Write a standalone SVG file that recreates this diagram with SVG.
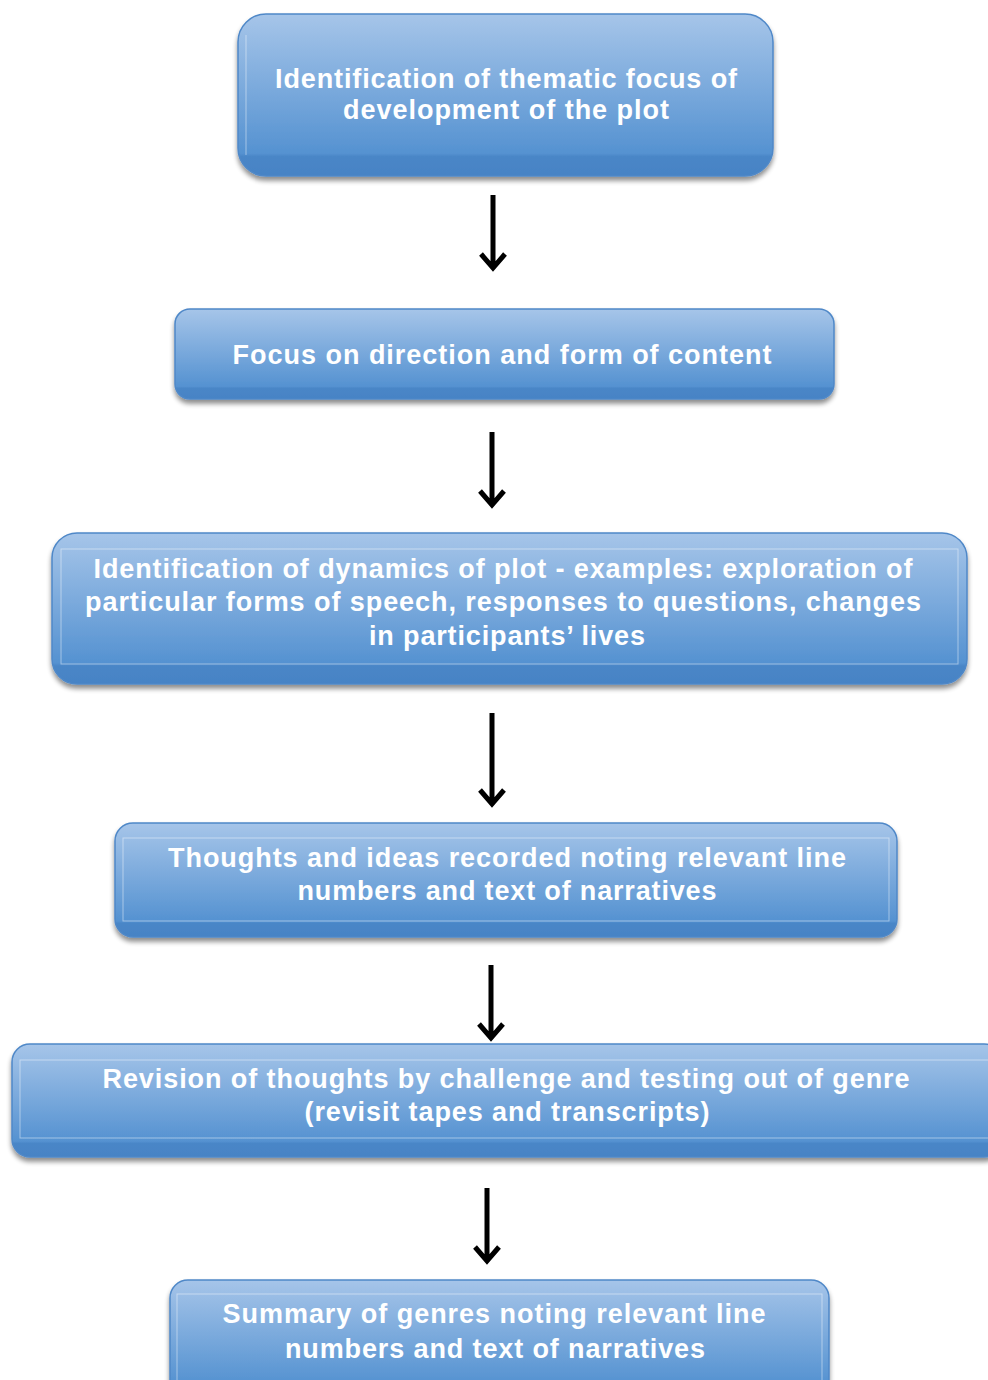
<svg xmlns="http://www.w3.org/2000/svg" width="988" height="1380" viewBox="0 0 988 1380">
<defs>
<linearGradient id="g" x1="0" y1="0" x2="0" y2="1">
<stop offset="0" stop-color="#a6c5e9"/>
<stop offset="0.86" stop-color="#5592d1"/>
<stop offset="0.88" stop-color="#4a86c7"/>
<stop offset="1" stop-color="#4683c5"/>
</linearGradient>
<filter id="sh" x="-5%" y="-10%" width="110%" height="130%">
<feGaussianBlur in="SourceAlpha" stdDeviation="2.5"/>
<feOffset dx="0" dy="4" result="b"/>
<feComponentTransfer><feFuncA type="linear" slope="0.45"/></feComponentTransfer>
<feMerge><feMergeNode/><feMergeNode in="SourceGraphic"/></feMerge>
</filter>
</defs>
<style>
.box{fill:url(#g);stroke:#4f88c8;stroke-width:1.5;filter:url(#sh)}
.inner{fill:none;stroke:#ffffff;stroke-opacity:0.45;stroke-width:1}
.t{font-family:"Liberation Sans",Arial,sans-serif;font-weight:bold;font-size:27px;fill:#ffffff;text-anchor:middle}
.arr{stroke:#000;stroke-width:5;fill:none;stroke-linecap:butt;stroke-linejoin:miter}
</style>
<g id="connectors">
<path class="arr" d="M493 195V267M481 254L493 268L505 254"/>
<path class="arr" d="M492 432V504M480 491L492 505L504 491"/>
<path class="arr" d="M492 713V803M480 790L492 804L504 790"/>
<path class="arr" d="M491 965V1037M479 1024L491 1038L503 1024"/>
<path class="arr" d="M487 1188V1260M475 1247L487 1261L499 1247"/>
</g>
<g id="n1">
<rect class="box" x="238" y="14" width="535" height="162" rx="28"/>
<line class="inner" x1="246" y1="35" x2="246" y2="155"/>
<text class="t" x="506" y="88" textLength="462" lengthAdjust="spacing">Identification of thematic focus of</text>
<text class="t" x="506" y="119" textLength="326" lengthAdjust="spacing">development of the plot</text>
</g>
<g id="n2">
<rect class="box" x="175" y="309" width="659" height="90" rx="15"/>
<text class="t" x="502" y="364" textLength="539" lengthAdjust="spacing">Focus on direction and form of content</text>
</g>
<g id="n3">
<rect class="box" x="52" y="533" width="915" height="151" rx="25"/>
<rect class="inner" x="61" y="549" width="897" height="115"/>
<text class="t" x="503" y="578" textLength="819" lengthAdjust="spacing">Identification of dynamics of plot - examples: exploration of</text>
<text class="t" x="503" y="611" textLength="836" lengthAdjust="spacing">particular forms of speech, responses to questions, changes</text>
<text class="t" x="507" y="645" textLength="276" lengthAdjust="spacing">in participants’ lives</text>
</g>
<g id="n4">
<rect class="box" x="115" y="823" width="782" height="114" rx="18"/>
<rect class="inner" x="123" y="838" width="766" height="83"/>
<text class="t" x="507" y="867" textLength="678" lengthAdjust="spacing">Thoughts and ideas recorded noting relevant line</text>
<text class="t" x="507" y="900" textLength="419" lengthAdjust="spacing">numbers and text of narratives</text>
</g>
<g id="n5">
<rect class="box" x="12" y="1044" width="990" height="113" rx="18"/>
<rect class="inner" x="20" y="1060" width="980" height="78"/>
<text class="t" x="506" y="1088" textLength="807" lengthAdjust="spacing">Revision of thoughts by challenge and testing out of genre</text>
<text class="t" x="507" y="1121" textLength="405" lengthAdjust="spacing">(revisit tapes and transcripts)</text>
</g>
<g id="n6">
<rect class="box" x="170" y="1280" width="659" height="120" rx="18"/>
<rect class="inner" x="177" y="1294" width="645" height="100"/>
<text class="t" x="494" y="1323" textLength="543" lengthAdjust="spacing">Summary of genres noting relevant line</text>
<text class="t" x="495" y="1358" textLength="420" lengthAdjust="spacing">numbers and text of narratives</text>
</g>
</svg>
